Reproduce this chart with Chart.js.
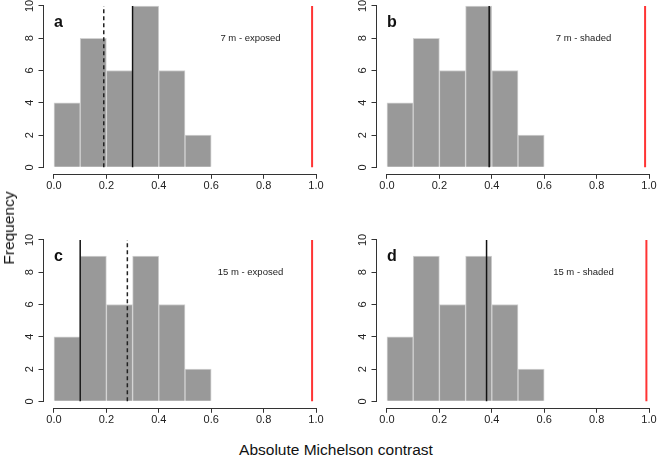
<!DOCTYPE html>
<html>
<head>
<meta charset="utf-8">
<script src="https://cdn.jsdelivr.net/npm/chart.js@4.4.1/dist/chart.umd.min.js"></script>
<style>
  html, body { margin: 0; padding: 0; background: #fff; overflow: hidden; }
  body { width: 657px; height: 456px; position: relative; font-family: "Liberation Sans", Arial, sans-serif; }
  .panel { position: absolute; width: 330px; }
  .panel canvas { display: block; }
  #ylab { position: absolute; left: 9px; top: 228px; transform: translate(-50%, -50%) rotate(-90deg); font-size: 15.5px; color: #111; white-space: nowrap; }
  #xlab { position: absolute; left: 336px; top: 450px; transform: translate(-50%, -50%); font-size: 15.5px; color: #111; white-space: nowrap; }
</style>
</head>
<body>
<div class="panel" style="left:0;top:0;height:200px"><canvas id="pa"></canvas></div>
<div class="panel" style="left:333px;top:0;height:200px"><canvas id="pb"></canvas></div>
<div class="panel" style="left:0;top:220px;height:214px"><canvas id="pc"></canvas></div>
<div class="panel" style="left:333px;top:220px;height:214px"><canvas id="pd"></canvas></div>
<div id="ylab">Frequency</div>
<div id="xlab">Absolute Michelson contrast</div>
<script>
// histogram bins (midpoints, width 0.1)
const binMids = [0.05, 0.15, 0.25, 0.35, 0.45, 0.55]
const countsA = [4, 8, 6, 10, 6, 2]
const countsB = [4, 8, 6, 10, 6, 2]
const countsC = [4, 9, 6, 9, 6, 2]
const countsD = [4, 9, 6, 9, 6, 2]

const panelLetters = ["a", "b", "c", "d"]
const panelTitles = ["7 m - exposed", "7 m - shaded", "15 m - exposed", "15 m - shaded"]
const solidLines = [0.30, 0.39, 0.10, 0.38]
const dashedLines = [0.19, null, 0.28, null]
const redLines = [0.985, 0.985, 0.985, 0.99]

const xTicks = [0, 0.2, 0.4, 0.6, 0.8, 1.0]
const yTicks = [0, 2, 4, 6, 8, 10]

const FONT = '"Liberation Sans", Arial, sans-serif'

// draws R-style axis lines, rotated y labels and panel text
const panelText = {
  id: "panelText",
  afterDraw(chart, args, opts) {
    const { ctx, chartArea, scales } = chart
    const x = scales.x
    const y = scales.y
    ctx.save()
    ctx.strokeStyle = "#333"
    ctx.lineWidth = 1
    ctx.beginPath()
    ctx.moveTo(x.getPixelForValue(0), Math.round(chartArea.bottom) + 0.5)
    ctx.lineTo(x.getPixelForValue(1), Math.round(chartArea.bottom) + 0.5)
    ctx.moveTo(Math.round(chartArea.left) - 0.5, y.getPixelForValue(0))
    ctx.lineTo(Math.round(chartArea.left) - 0.5, y.getPixelForValue(10))
    ctx.stroke()

    ctx.fillStyle = "#222"
    ctx.font = "11px " + FONT
    ctx.textAlign = "center"
    ctx.textBaseline = "middle"
    yTicks.forEach((t) => {
      ctx.save()
      ctx.translate(chartArea.left - 14, y.getPixelForValue(t))
      ctx.rotate(-Math.PI / 2)
      ctx.fillText(String(t), 0, 0)
      ctx.restore()
    })

    ctx.fillStyle = "#111"
    ctx.font = "bold 16px " + FONT
    ctx.textAlign = "left"
    ctx.fillText(opts.letter, x.getPixelForValue(0), y.getPixelForValue(9))

    ctx.fillStyle = "#222"
    ctx.font = "9.5px " + FONT
    ctx.textAlign = "center"
    ctx.fillText(opts.title, x.getPixelForValue(0.75), y.getPixelForValue(8))
    ctx.restore()
  },
}

function vline(v, color, width, dash) {
  return {
    type: "line",
    data: [{ x: v, y: 0 }, { x: v, y: 10 }],
    borderColor: color,
    borderWidth: width,
    borderDash: dash,
    pointRadius: 0,
    order: 1,
  }
}

function makePanel(id, counts, i, topPad) {
  const datasets = [
    {
      type: "bar",
      data: binMids.map((m, k) => ({ x: m, y: counts[k] })),
      backgroundColor: "#999999",
      borderColor: "#d2d2d2",
      borderWidth: 1,
      barPercentage: 1,
      categoryPercentage: 1,
      order: 3,
    },
  ]
  datasets.push(vline(redLines[i], "#ff3434", 2, []))
  datasets.push(vline(solidLines[i], "#111", 1.5, []))
  if (dashedLines[i] !== null) datasets.push(vline(dashedLines[i], "#222", 1.5, [4, 3]))

  new Chart(document.getElementById(id), {
    type: "bar",
    data: { datasets },
    options: {
      responsive: true,
      maintainAspectRatio: false,
      animation: false,
      devicePixelRatio: 1,
      layout: { padding: { top: topPad, right: 3.5, left: 0, bottom: 0 } },
      plugins: {
        legend: { display: false },
        tooltip: { enabled: false },
        panelText: { letter: panelLetters[i], title: panelTitles[i] },
      },
      scales: {
        x: {
          type: "linear",
          min: -0.04,
          max: 1.04,
          offset: false,
          afterBuildTicks: (s) => { s.ticks = xTicks.map((v) => ({ value: v })) },
          afterFit: (s) => { s.height = 26.2 },
          border: { display: false },
          grid: { offset: false, drawOnChartArea: false, drawTicks: true, tickLength: 5, color: "#333" },
          ticks: {
            padding: 1,
            color: "#222",
            font: { family: FONT, size: 11 },
            maxRotation: 0,
            callback: (v) => Number(v).toFixed(1),
          },
        },
        y: {
          min: -0.4,
          max: 10.37,
          afterBuildTicks: (s) => { s.ticks = yTicks.map((v) => ({ value: v })) },
          afterFit: (s) => { s.width = 43.5 },
          border: { display: false },
          grid: { drawOnChartArea: false, drawTicks: true, tickLength: 5, color: "#333" },
          ticks: { display: false },
        },
      },
    },
    plugins: [panelText],
  })
}

makePanel("pa", countsA, 0, 0)
makePanel("pb", countsB, 1, 0)
makePanel("pc", countsC, 2, 14)
makePanel("pd", countsD, 3, 14)
</script>
</body>
</html>
